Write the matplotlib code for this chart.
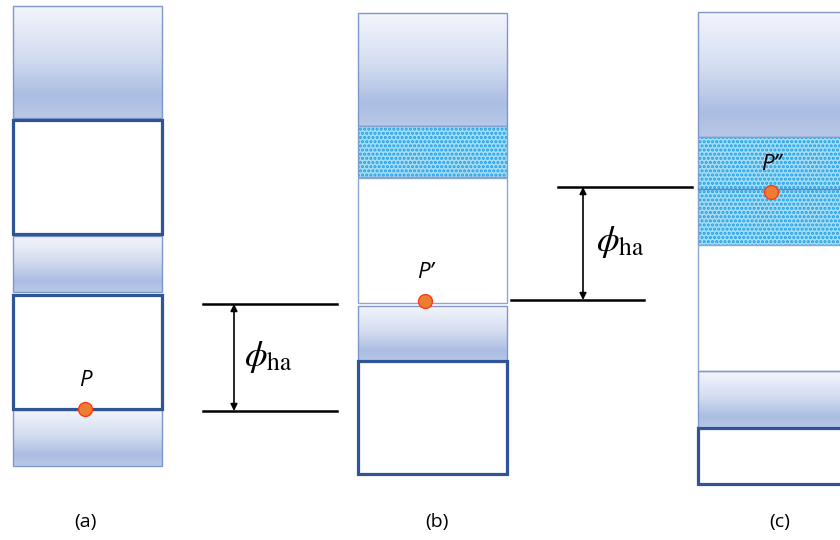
import numpy as np
import matplotlib
matplotlib.use("Agg")
import matplotlib.pyplot as plt
from matplotlib.patches import Rectangle
from matplotlib.colors import LinearSegmentedColormap

plt.rcParams['mathtext.fontset'] = 'stix'
plt.rcParams['hatch.linewidth'] = 1.5

# ---- data (pixel-space layout of the schematic) ----
panel_labels = ["(a)", "(b)", "(c)"]
panel_x = [(13, 162), (358, 507), (698, 850)]
# layers: (kind, top, bottom)
layers_a = [("grad", 6, 118), ("thick", 120, 234), ("grad", 236, 292),
            ("thick", 295, 409), ("grad", 410, 466)]
layers_b = [("grad", 13, 126), ("dots", 126, 177), ("thin", 178, 303),
            ("grad", 306, 362), ("thick", 361, 474)]
layers_c = [("grad", 12, 137), ("dots", 137, 245), ("thin", 245, 371),
            ("grad", 371, 428), ("thick", 428, 484)]
points = [(85, 409), (425, 301), (771, 192)]
point_labels = ["P", "P\u2019", "P\u2019\u2019"]
phi_levels = [(304, 411), (187, 300)]

fig = plt.figure(figsize=(8.4, 5.4), dpi=100)
ax = fig.add_axes([0, 0, 1, 1])
ax.set_xlim(0, 840)
ax.set_ylim(540, 0)
ax.axis('off')

cmap = LinearSegmentedColormap.from_list(
    "g", [(0, "#f3f5fc"), (0.45, "#d3ddf0"), (0.8, "#aabde2"), (1.0, "#b8c8e7")])
grad = np.linspace(0, 1, 200).reshape(-1, 1)

def draw_layer(x0, x1, kind, top, bot):
    if kind == "grad":
        ax.imshow(grad, cmap=cmap, extent=(x0, x1, bot, top), aspect='auto',
                  interpolation='bilinear', zorder=1)
        ax.add_patch(Rectangle((x0, top), x1 - x0, bot - top, fill=False,
                               ec="#8098c9", lw=1.0, zorder=2))
    elif kind == "dots":
        ax.add_patch(Rectangle((x0, top), x1 - x0, bot - top, fc="#a6ddf7",
                               ec="#1c9fe4", lw=0, hatch='....', zorder=2))
        ax.add_patch(Rectangle((x0, top), x1 - x0, bot - top, fill=False,
                               ec="#7fa0cc", lw=1.0, zorder=2))
    elif kind == "thin":
        ax.add_patch(Rectangle((x0, top), x1 - x0, bot - top, fc="white",
                               ec="#8ea6d2", lw=1.0, zorder=2))
    elif kind == "thick":
        ax.add_patch(Rectangle((x0, top), x1 - x0, bot - top, fc="white",
                               ec="#2f5597", lw=2.3, zorder=3))

for (x0, x1), layers in zip(panel_x, [layers_a, layers_b, layers_c]):
    for kind, top, bot in layers:
        draw_layer(x0, x1, kind, top, bot)

# separator line in dotted region of (c)
ax.plot([698, 850], [189, 189], color="#5a88c4", lw=1.0, zorder=4)

for (px, py), lab in zip(points, point_labels):
    ax.plot(px, py, 'o', ms=10, mfc="#ed7d31", mec="#ff3a1a", mew=1.0, zorder=6)
    ax.text(px, py - 28, lab, ha='center', va='center', fontsize=16,
            family='Open Sans', style='italic', zorder=6)

# phi_ha markers
ax.plot([203, 337], [phi_levels[0][0]] * 2, color='black', lw=1.8)
ax.plot([203, 337], [phi_levels[0][1]] * 2, color='black', lw=1.8)
ax.annotate('', xy=(234, phi_levels[0][0]), xytext=(234, phi_levels[0][1]),
            arrowprops=dict(arrowstyle='<|-|>', color='black', lw=1.2,
                            mutation_scale=10, shrinkA=0, shrinkB=0))
ax.text(244, 357, r'$\phi_{\mathrm{ha}}$', fontsize=26, ha='left', va='center')

ax.plot([558, 692], [phi_levels[1][0]] * 2, color='black', lw=1.8)
ax.plot([511, 644], [phi_levels[1][1]] * 2, color='black', lw=1.8)
ax.annotate('', xy=(583, phi_levels[1][0]), xytext=(583, phi_levels[1][1]),
            arrowprops=dict(arrowstyle='<|-|>', color='black', lw=1.2,
                            mutation_scale=10, shrinkA=0, shrinkB=0))
ax.text(596, 242, r'$\phi_{\mathrm{ha}}$', fontsize=26, ha='left', va='center')

for lab, x in zip(panel_labels, [85, 437, 780]):
    ax.text(x, 522, lab, ha='center', va='center', fontsize=14, family='Open Sans')

fig.savefig("out.png", dpi=100)
